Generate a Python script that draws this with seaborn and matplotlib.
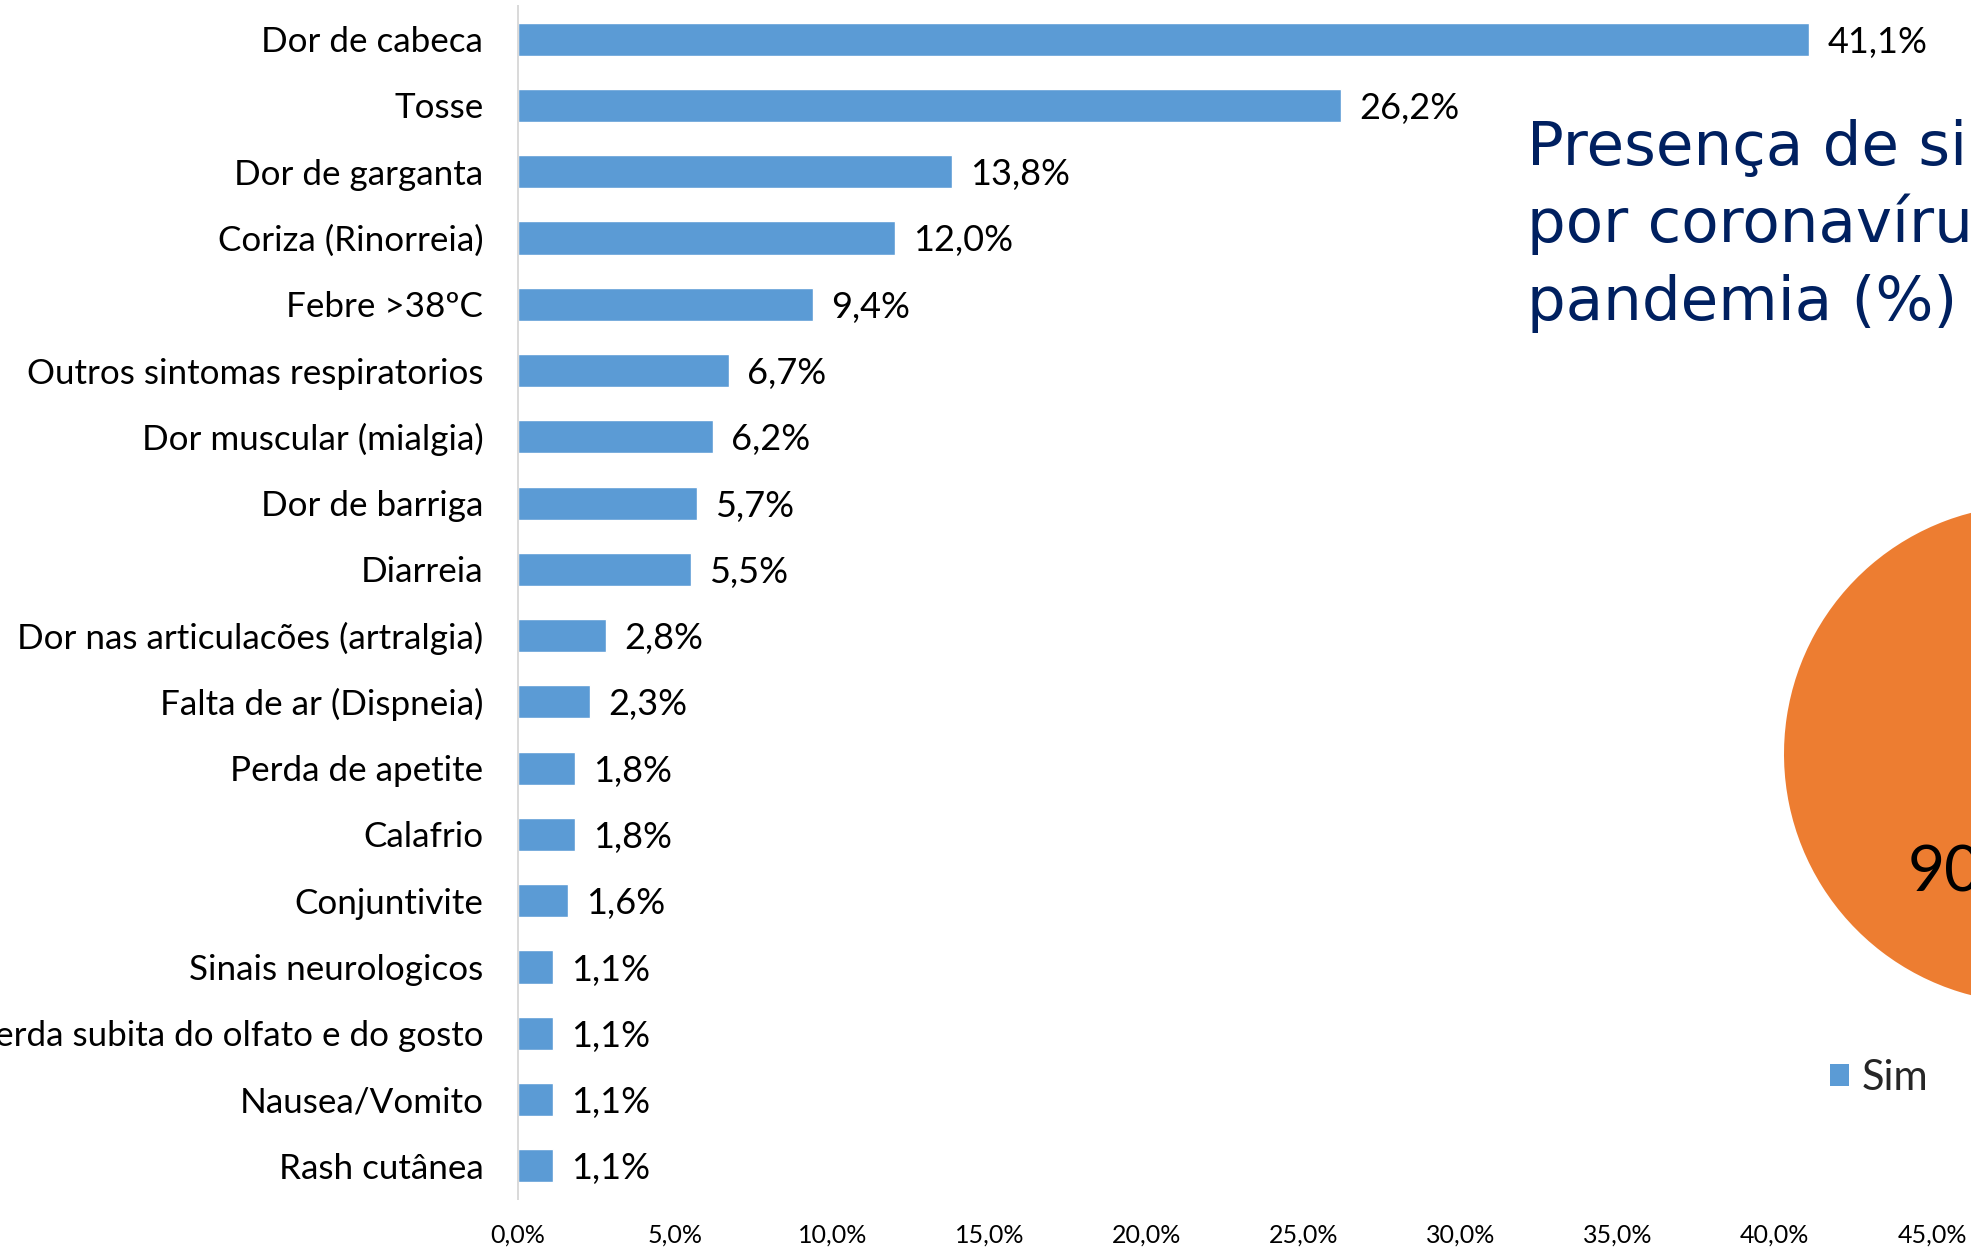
import matplotlib
matplotlib.use("Agg")
import matplotlib.pyplot as plt
import seaborn as sns
import pandas as pd

# Symptom frequencies (%)
sintomas = [
    "Dor de cabeca",
    "Tosse",
    "Dor de garganta",
    "Coriza (Rinorreia)",
    "Febre >38ºC",
    "Outros sintomas respiratorios",
    "Dor muscular (mialgia)",
    "Dor de barriga",
    "Diarreia",
    "Dor nas articulacões (artralgia)",
    "Falta de ar (Dispneia)",
    "Perda de apetite",
    "Calafrio",
    "Conjuntivite",
    "Sinais neurologicos",
    "Perda subita do olfato e do gosto",
    "Nausea/Vomito",
    "Rash cutânea",
]
percentuais = [41.1, 26.2, 13.8, 12.0, 9.4, 6.7, 6.2, 5.7, 5.5,
               2.8, 2.3, 1.8, 1.8, 1.6, 1.1, 1.1, 1.1, 1.1]

# Share of respondents reporting symptoms
pie_labels = ["Sim", "Não"]
pie_values = [9.5, 90.5]

x_ticks = [0, 5, 10, 15, 20, 25, 30, 35, 40, 45]

title_lines = ["Presença de sintomas", "por coronavírus durante a", "pandemia (%)"]

BLUE = "#5B9BD5"
ORANGE = "#ED7D31"
NAVY = "#002060"


def pt(v):
    return f"{v:.1f}".replace(".", ",") + "%"


sns.set_theme(style="white")
plt.rcParams["font.family"] = ["Lato", "DejaVu Sans"]

W, H = 1971, 1253
fig = plt.figure(figsize=(W / 100, H / 100), dpi=100)
fig.patch.set_facecolor("white")

# Bar chart area (pixel geometry converted to figure fractions)
left_px, right_px, top_px, bottom_px = 518, 1932, 6, 1199
ax = fig.add_axes([left_px / W, 1 - bottom_px / H,
                   (right_px - left_px) / W, (bottom_px - top_px) / H])

df = pd.DataFrame({"sintoma": sintomas, "valor": percentuais})
sns.barplot(data=df, x="valor", y="sintoma", orient="h", color=BLUE,
            saturation=1, width=0.5, ax=ax)

ax.set_xlim(0, 45)
ax.set_xticks(x_ticks)
ax.set_xticklabels([pt(t) for t in x_ticks], fontsize=18)
ax.set_xlabel("")
ax.set_ylabel("")
ax.tick_params(axis="x", length=0, pad=18, colors="black")
ax.tick_params(axis="y", length=0, pad=25, labelsize=25.2, colors="black")

for side in ("top", "right", "bottom"):
    ax.spines[side].set_visible(False)
ax.spines["left"].set_color("#D9D9D9")
ax.spines["left"].set_linewidth(1.4)
ax.grid(False)

value_texts = ax.bar_label(ax.containers[0],
                           labels=[pt(v) for v in percentuais],
                           padding=13, fontsize=26, color="black")
for t in value_texts:
    t.set_verticalalignment("center_baseline")

# Title block
baselines = [165, 242, 320]
for line, b in zip(title_lines, baselines):
    fig.text(1527 / W, 1 - b / H, line, color=NAVY, fontsize=44,
             fontfamily="DejaVu Sans", ha="left", va="baseline")

# Pie chart (centre 2033,754 px; radius 249 px)
cx, cy, r = 2033, 754, 249
pax = fig.add_axes([(cx - r) / W, 1 - (cy + r) / H, 2 * r / W, 2 * r / H])
wedges, _, autotexts = pax.pie(
    pie_values, colors=[BLUE, ORANGE], startangle=90, counterclock=False,
    radius=1, autopct=lambda p: pt(p), pctdistance=0.5,
    textprops={"fontsize": 46, "color": "black"},
    wedgeprops={"linewidth": 0},
)
pax.set_xlim(-1, 1)
pax.set_ylim(-1, 1)
pax.set_aspect("equal")
pax.axis("off")

fig.legend(wedges, pie_labels, loc="center left",
           bbox_to_anchor=(1830 / W, 1 - 1078 / H), ncol=2, frameon=False,
           fontsize=30, handlelength=0.45, handleheight=0.45,
           handletextpad=0.3, borderpad=0, borderaxespad=0,
           columnspacing=1.5)

fig.savefig("out.png", dpi=100)
